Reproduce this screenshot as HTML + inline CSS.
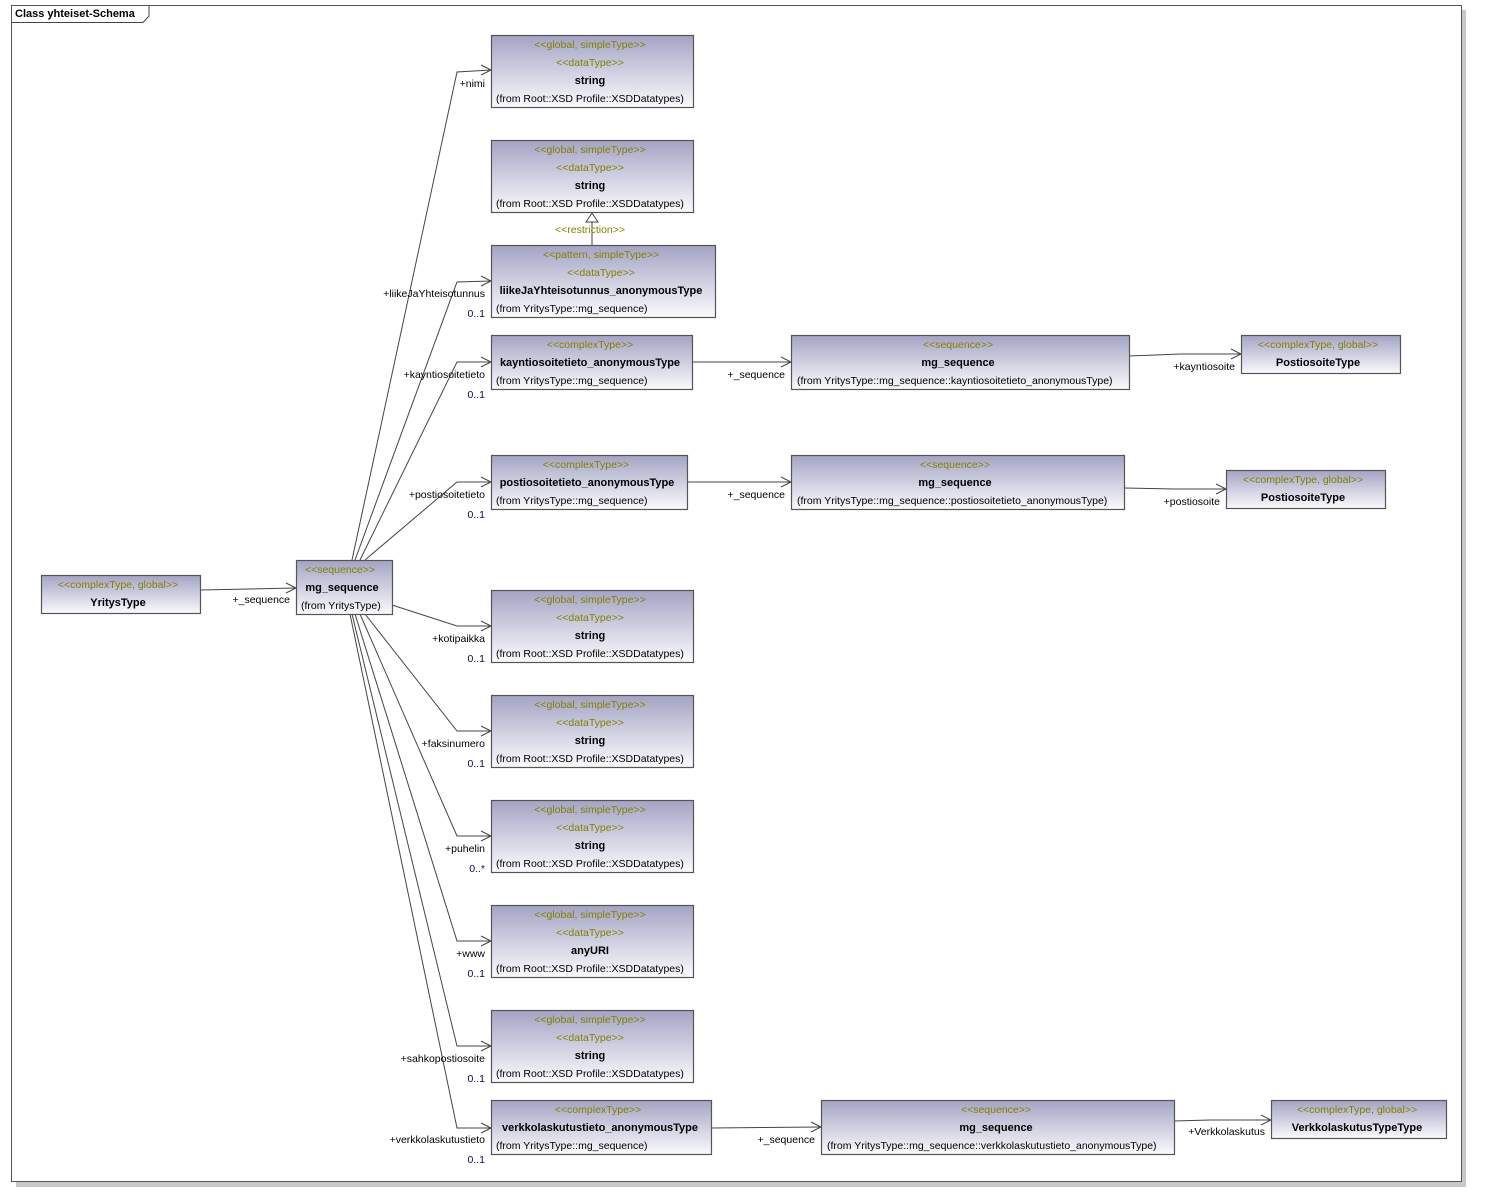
<!DOCTYPE html>
<html><head><meta charset="utf-8"><style>
html,body{margin:0;padding:0;background:#fff;}
svg{display:block;}
text{font-family:"Liberation Sans",sans-serif;font-size:10.5px;}
.st{fill:#808000;text-anchor:middle;}
.nm{fill:#000;font-weight:bold;text-anchor:middle;font-size:11px;}
.fr{fill:#000;text-anchor:start;}
.lb{fill:#000;text-anchor:end;}
.mu{fill:#200040;text-anchor:end;}
.bx{fill:url(#g);stroke:#555;stroke-width:1.2;}
.ln{fill:none;stroke:#444;stroke-width:1;}
</style></head><body>
<svg width="1487" height="1202" viewBox="0 0 1487 1202" xmlns="http://www.w3.org/2000/svg">
<defs><linearGradient id="g" x1="0" y1="0" x2="0" y2="1"><stop offset="0" stop-color="#a4a4c4"/><stop offset="1" stop-color="#fafafd"/></linearGradient></defs>
<!-- frame shadow -->
<rect x="16" y="10" width="1450" height="1177" fill="#c8c8c8"/>
<rect x="11.5" y="5.5" width="1450" height="1176" fill="#fff" stroke="#555" stroke-width="1"/>
<path d="M11.5,22.5 H143 L149,16 V5.5" class="ln" stroke="#555"/>
<text x="15" y="17" style="font-weight:bold;font-size:11px">Class yhteiset-Schema</text>

<!-- connectors fan -->
<path class="ln" d="M352,560 L457,72 L491,70"/>
<path class="ln" d="M355,560 L457,282 L491,281"/>
<path class="ln" d="M360,560 L457,362 L491,362"/>
<path class="ln" d="M365,560 L457,482 L491,482"/>
<path class="ln" d="M392,605 L457,626 L491,626"/>
<path class="ln" d="M365,614 L457,731 L491,731"/>
<path class="ln" d="M360,614 L457,836 L491,836"/>
<path class="ln" d="M355,614 L457,941 L491,941"/>
<path class="ln" d="M352,614 L457,1046 L491,1046"/>
<path class="ln" d="M350,614 L457,1128 L491,1128"/>
<g class="ln">
<polyline points="481,65 491,70 481,75"/>
<polyline points="481,276 491,281 481,286"/>
<polyline points="481,357 491,362 481,367"/>
<polyline points="481,477 491,482 481,487"/>
<polyline points="481,621 491,626 481,631"/>
<polyline points="481,726 491,731 481,736"/>
<polyline points="481,831 491,836 481,841"/>
<polyline points="481,936 491,941 481,946"/>
<polyline points="481,1041 491,1046 481,1051"/>
<polyline points="481,1123 491,1128 481,1133"/>
</g>
<!-- other connectors -->
<path class="ln" d="M200,590 L250,589 L296,588"/><polyline class="ln" points="286,583 296,588 286,593"/>
<path class="ln" d="M692,362 L791,362"/><polyline class="ln" points="781,357 791,362 781,367"/>
<path class="ln" d="M1129,356 L1180,354 L1241,354"/><polyline class="ln" points="1231,349 1241,354 1231,359"/>
<path class="ln" d="M687,482 L791,482"/><polyline class="ln" points="781,477 791,482 781,487"/>
<path class="ln" d="M1124,488 L1175,489 L1226,489"/><polyline class="ln" points="1216,484 1226,489 1216,494"/>
<path class="ln" d="M711,1128 L821,1127"/><polyline class="ln" points="811,1122 821,1127 811,1132"/>
<path class="ln" d="M1174,1121 L1210,1120 L1271,1120"/><polyline class="ln" points="1261,1115 1271,1120 1261,1125"/>
<!-- generalization -->
<path class="ln" d="M592,245 V222"/><polygon points="586,222 592,213 598,222" fill="#fff" stroke="#444"/>
<text class="st" x="590" y="233">&lt;&lt;restriction&gt;&gt;</text>

<!-- labels -->
<text class="lb" x="485" y="87">+nimi</text>
<text class="lb" x="485" y="297">+liikeJaYhteisotunnus</text><text class="mu" x="485" y="317">0..1</text>
<text class="lb" x="485" y="378">+kayntiosoitetieto</text><text class="mu" x="485" y="398">0..1</text>
<text class="lb" x="485" y="498">+postiosoitetieto</text><text class="mu" x="485" y="518">0..1</text>
<text class="lb" x="485" y="642">+kotipaikka</text><text class="mu" x="485" y="662">0..1</text>
<text class="lb" x="485" y="747">+faksinumero</text><text class="mu" x="485" y="767">0..1</text>
<text class="lb" x="485" y="852">+puhelin</text><text class="mu" x="485" y="872">0..*</text>
<text class="lb" x="485" y="957">+www</text><text class="mu" x="485" y="977">0..1</text>
<text class="lb" x="485" y="1062">+sahkopostiosoite</text><text class="mu" x="485" y="1082">0..1</text>
<text class="lb" x="485" y="1143">+verkkolaskutustieto</text><text class="mu" x="485" y="1163">0..1</text>
<text class="lb" x="290" y="603">+_sequence</text>
<text class="lb" x="785" y="378">+_sequence</text>
<text class="lb" x="785" y="498">+_sequence</text>
<text class="lb" x="815" y="1143">+_sequence</text>
<text class="lb" x="1235" y="370">+kayntiosoite</text>
<text class="lb" x="1220" y="505">+postiosoite</text>
<text class="lb" x="1265" y="1135">+Verkkolaskutus</text>

<!-- string-like boxes -->
<g>
<rect class="bx" x="491.5" y="35.5" width="202" height="72"/>
<text class="st" x="590" y="48">&lt;&lt;global, simpleType&gt;&gt;</text><text class="st" x="590" y="66">&lt;&lt;dataType&gt;&gt;</text>
<text class="nm" x="590" y="84">string</text><text class="fr" x="496" y="102">(from Root::XSD Profile::XSDDatatypes)</text>
</g>
<g>
<rect class="bx" x="491.5" y="140.5" width="202" height="72"/>
<text class="st" x="590" y="153">&lt;&lt;global, simpleType&gt;&gt;</text><text class="st" x="590" y="171">&lt;&lt;dataType&gt;&gt;</text>
<text class="nm" x="590" y="189">string</text><text class="fr" x="496" y="207">(from Root::XSD Profile::XSDDatatypes)</text>
</g>
<g>
<rect class="bx" x="491.5" y="245.5" width="224" height="72"/>
<text class="st" x="601" y="258">&lt;&lt;pattern, simpleType&gt;&gt;</text><text class="st" x="601" y="276">&lt;&lt;dataType&gt;&gt;</text>
<text class="nm" x="601" y="294">liikeJaYhteisotunnus_anonymousType</text><text class="fr" x="496" y="312">(from YritysType::mg_sequence)</text>
</g>
<g>
<rect class="bx" x="491.5" y="335.5" width="201" height="54"/>
<text class="st" x="590" y="348">&lt;&lt;complexType&gt;&gt;</text>
<text class="nm" x="590" y="366">kayntiosoitetieto_anonymousType</text><text class="fr" x="496" y="384">(from YritysType::mg_sequence)</text>
</g>
<g>
<rect class="bx" x="791.5" y="335.5" width="338" height="54"/>
<text class="st" x="958" y="348">&lt;&lt;sequence&gt;&gt;</text>
<text class="nm" x="958" y="366">mg_sequence</text><text class="fr" x="797" y="384">(from YritysType::mg_sequence::kayntiosoitetieto_anonymousType)</text>
</g>
<g>
<rect class="bx" x="1241.5" y="335.5" width="159" height="38"/>
<text class="st" x="1318" y="348">&lt;&lt;complexType, global&gt;&gt;</text>
<text class="nm" x="1318" y="366">PostiosoiteType</text>
</g>
<g>
<rect class="bx" x="491.5" y="455.5" width="196" height="54"/>
<text class="st" x="586" y="468">&lt;&lt;complexType&gt;&gt;</text>
<text class="nm" x="587" y="486">postiosoitetieto_anonymousType</text><text class="fr" x="496" y="504">(from YritysType::mg_sequence)</text>
</g>
<g>
<rect class="bx" x="791.5" y="455.5" width="333" height="54"/>
<text class="st" x="955" y="468">&lt;&lt;sequence&gt;&gt;</text>
<text class="nm" x="955" y="486">mg_sequence</text><text class="fr" x="797" y="504">(from YritysType::mg_sequence::postiosoitetieto_anonymousType)</text>
</g>
<g>
<rect class="bx" x="1226.5" y="470.5" width="159" height="38"/>
<text class="st" x="1303" y="483">&lt;&lt;complexType, global&gt;&gt;</text>
<text class="nm" x="1303" y="501">PostiosoiteType</text>
</g>
<g>
<rect class="bx" x="41.5" y="575.5" width="159" height="38"/>
<text class="st" x="118" y="588">&lt;&lt;complexType, global&gt;&gt;</text>
<text class="nm" x="118" y="606">YritysType</text>
</g>
<g>
<rect class="bx" x="296.5" y="560.5" width="96" height="54"/>
<text class="st" x="340" y="573">&lt;&lt;sequence&gt;&gt;</text>
<text class="nm" x="342" y="591">mg_sequence</text><text class="fr" x="301" y="609">(from YritysType)</text>
</g>
<g>
<rect class="bx" x="491.5" y="590.5" width="202" height="72"/>
<text class="st" x="590" y="603">&lt;&lt;global, simpleType&gt;&gt;</text><text class="st" x="590" y="621">&lt;&lt;dataType&gt;&gt;</text>
<text class="nm" x="590" y="639">string</text><text class="fr" x="496" y="657">(from Root::XSD Profile::XSDDatatypes)</text>
</g>
<g>
<rect class="bx" x="491.5" y="695.5" width="202" height="72"/>
<text class="st" x="590" y="708">&lt;&lt;global, simpleType&gt;&gt;</text><text class="st" x="590" y="726">&lt;&lt;dataType&gt;&gt;</text>
<text class="nm" x="590" y="744">string</text><text class="fr" x="496" y="762">(from Root::XSD Profile::XSDDatatypes)</text>
</g>
<g>
<rect class="bx" x="491.5" y="800.5" width="202" height="72"/>
<text class="st" x="590" y="813">&lt;&lt;global, simpleType&gt;&gt;</text><text class="st" x="590" y="831">&lt;&lt;dataType&gt;&gt;</text>
<text class="nm" x="590" y="849">string</text><text class="fr" x="496" y="867">(from Root::XSD Profile::XSDDatatypes)</text>
</g>
<g>
<rect class="bx" x="491.5" y="905.5" width="202" height="72"/>
<text class="st" x="590" y="918">&lt;&lt;global, simpleType&gt;&gt;</text><text class="st" x="590" y="936">&lt;&lt;dataType&gt;&gt;</text>
<text class="nm" x="590" y="954">anyURI</text><text class="fr" x="496" y="972">(from Root::XSD Profile::XSDDatatypes)</text>
</g>
<g>
<rect class="bx" x="491.5" y="1010.5" width="202" height="72"/>
<text class="st" x="590" y="1023">&lt;&lt;global, simpleType&gt;&gt;</text><text class="st" x="590" y="1041">&lt;&lt;dataType&gt;&gt;</text>
<text class="nm" x="590" y="1059">string</text><text class="fr" x="496" y="1077">(from Root::XSD Profile::XSDDatatypes)</text>
</g>
<g>
<rect class="bx" x="491.5" y="1100.5" width="220" height="54"/>
<text class="st" x="598" y="1113">&lt;&lt;complexType&gt;&gt;</text>
<text class="nm" x="600" y="1131">verkkolaskutustieto_anonymousType</text><text class="fr" x="496" y="1149">(from YritysType::mg_sequence)</text>
</g>
<g>
<rect class="bx" x="821.5" y="1100.5" width="353" height="54"/>
<text class="st" x="996" y="1113">&lt;&lt;sequence&gt;&gt;</text>
<text class="nm" x="996" y="1131">mg_sequence</text><text class="fr" x="827" y="1149">(from YritysType::mg_sequence::verkkolaskutustieto_anonymousType)</text>
</g>
<g>
<rect class="bx" x="1271.5" y="1100.5" width="175" height="38"/>
<text class="st" x="1357" y="1113">&lt;&lt;complexType, global&gt;&gt;</text>
<text class="nm" x="1357" y="1131">VerkkolaskutusTypeType</text>
</g>
</svg>
</body></html>
